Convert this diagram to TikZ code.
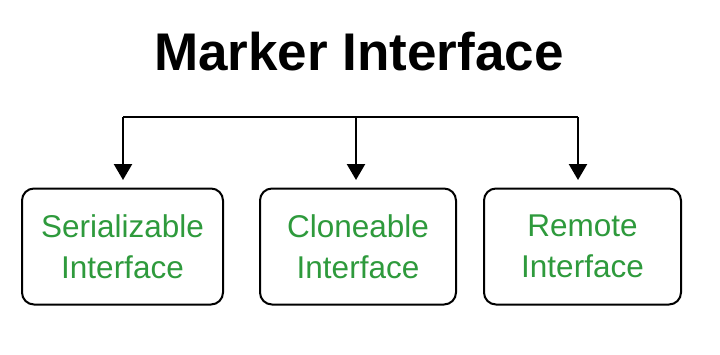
\documentclass[tikz,border=0pt]{standalone}
\usepackage{fontspec}
\setmainfont{Liberation Sans}
\usetikzlibrary{arrows.meta}
\definecolor{txtgreen}{HTML}{2E9A3C}
\begin{document}
\begin{tikzpicture}[x=1pt,y=-1pt,
  box/.style={draw=black,line width=2pt,rounded corners=12pt,minimum width=200pt,minimum height=116pt,inner sep=0pt,align=center,text=txtgreen,font=\fontsize{31.5}{41}\selectfont},
  conn/.style={line width=2.4pt,-{Triangle[width=18pt,length=16pt]}}]
\useasboundingbox (0,0) rectangle (720,354);
\node[font=\bfseries\fontsize{53}{60}\selectfont,anchor=base] (title) at (359,70) {Marker Interface};
\node[box,minimum width=201pt] (b1) at (122.5,246.5) {Serializable\\Interface};
\node[box,minimum width=196pt] (b2) at (358,246.5) {Cloneable\\Interface};
\node[box,minimum width=197pt] (b3) at (582.5,246.5) {Remote\\Interface};
\coordinate (j1) at (123,117);
\coordinate (j2) at (356,117);
\coordinate (j3) at (578,117);
\draw[line width=2.4pt] (j1) -- (j3);
\draw[conn] (j1) -- (123,180);
\draw[conn] (j2) -- (356,180);
\draw[conn] (j3) -- (578,180);
\end{tikzpicture}
\end{document}
